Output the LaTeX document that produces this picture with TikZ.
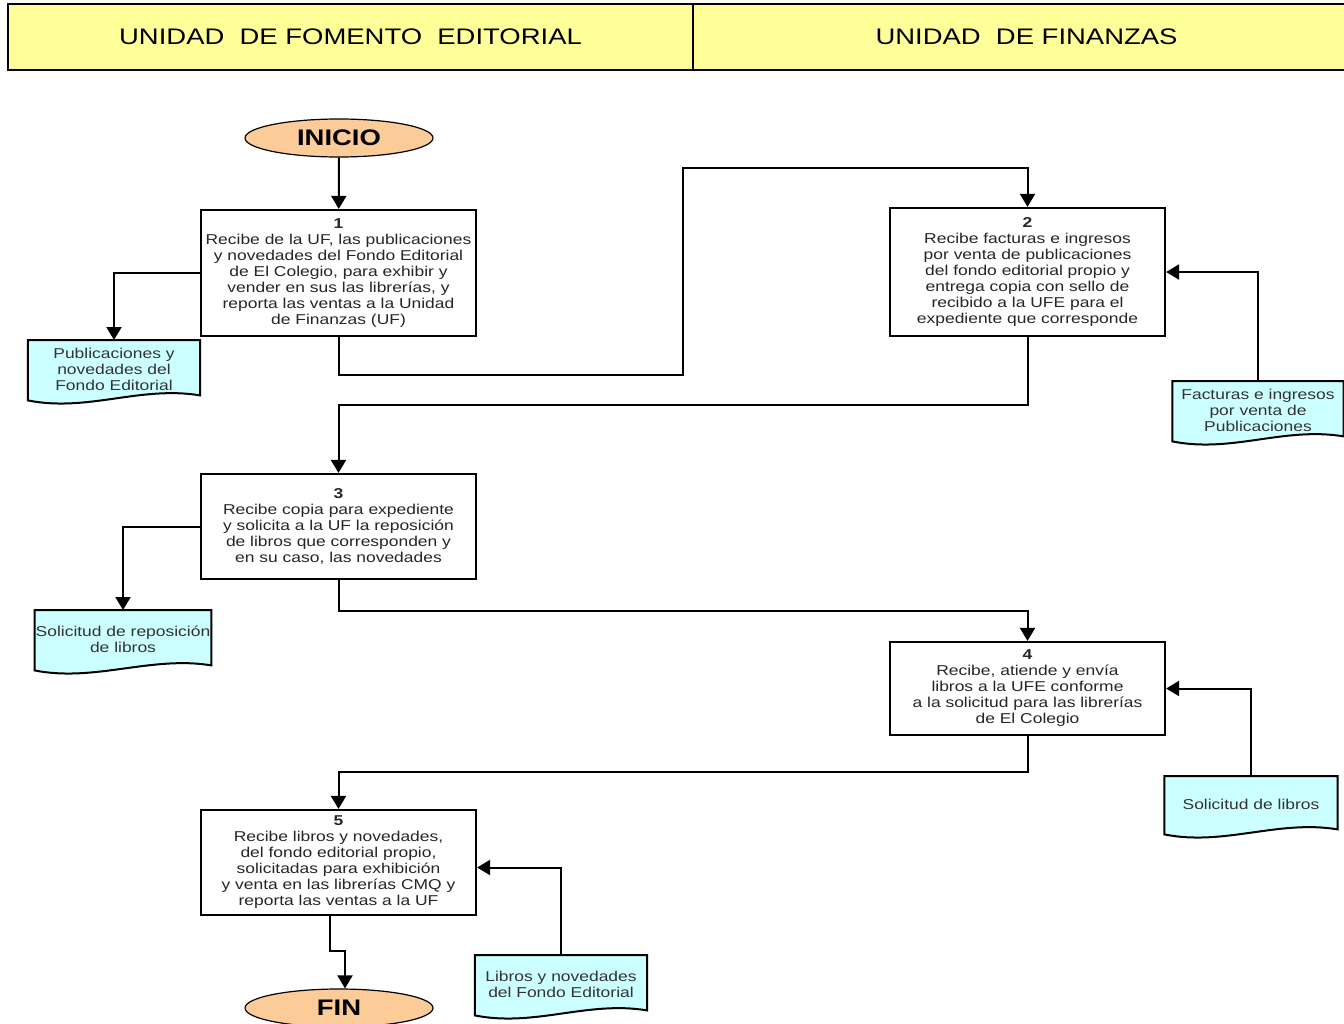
\documentclass[tikz,border=0pt]{standalone}
\usepackage{fontspec}
\setmainfont{Liberation Sans}[FakeStretch=1.22]
\usetikzlibrary{arrows.meta,shapes.geometric,backgrounds}

\definecolor{amarillo}{HTML}{FFFF99}
\definecolor{durazno}{HTML}{FBCB98}
\definecolor{celeste}{HTML}{CCFFFF}

\tikzset{
  encabezado/.style={draw, line width=2.2pt, fill=amarillo, minimum height=66pt,
    font=\fontsize{22.5}{24}\selectfont},
  terminal/.style={ellipse, draw, line width=1.2pt, fill=durazno, minimum width=188pt,
    minimum height=38pt, font=\fontsize{22.5}{24}\selectfont\bfseries},
  etapa/.style={draw, line width=2.2pt, fill=white, minimum width=275pt, inner sep=1pt,
    align=center, text=black!85, font=\fontsize{14.3}{16}\selectfont},
  doc/.style={anchor=north, minimum width=172pt, minimum height=58pt, inner sep=1pt,
    align=center, text=black!80, font=\fontsize{14.3}{16}\selectfont},
  flecha/.style={line width=2pt, -{Triangle[length=13pt,width=15pt]}},
}

% contorno de documento con borde inferior ondulado
\newcommand\docforma[1]{%
  \begin{scope}[on background layer]
    \draw[line width=2pt, fill=celeste] (#1.north west) -- (#1.north east)
      -- ([yshift=3pt]#1.south east)
      .. controls ([xshift=-60pt,yshift=13pt]#1.south east)
      and ([xshift=60pt,yshift=-14pt]#1.south west) .. ([yshift=-2pt]#1.south west)
      -- cycle;
  \end{scope}}

\begin{document}
\begin{tikzpicture}[x=1pt, y=-1pt]
  \useasboundingbox (0,0) rectangle (1344,1023);

  % carriles
  \node[encabezado, minimum width=685pt] (ufe) at (350.5,37) {UNIDAD\ \ DE FOMENTO\ \ EDITORIAL};
  \node[encabezado, minimum width=667pt] (uf) at (1026.5,37) {UNIDAD\ \ DE FINANZAS};

  % pasos
  \node[terminal] (inicio) at (339,138) {INICIO};
  \node[etapa, minimum height=126pt] (paso1) at (338.5,273) {\textbf{1}\\Recibe de la UF, las publicaciones\\y novedades del Fondo Editorial\\de El Colegio, para exhibir y\\vender  en sus las librerías, y\\reporta las ventas a la Unidad\\de Finanzas (UF)};
  \node[etapa, minimum height=128pt] (paso2) at (1027.5,272) {\textbf{2}\\Recibe facturas e ingresos\\por venta de publicaciones\\del fondo editorial propio y\\entrega copia con sello de\\recibido a la UFE para el\\expediente que corresponde};
  \node[etapa, minimum height=105pt] (paso3) at (338.5,526.5) {\textbf{3}\\Recibe copia para expediente\\y solicita a la UF la reposición\\de libros que corresponden y\\en su caso, las novedades};
  \node[etapa, minimum height=93pt] (paso4) at (1027.5,688.5) {\textbf{4}\\Recibe, atiende y envía\\libros a la UFE conforme\\a la solicitud para las librerías\\de El Colegio};
  \node[etapa, minimum height=105pt] (paso5) at (338.5,862.5) {\textbf{5}\\Recibe libros y novedades,\\del fondo editorial propio,\\solicitadas para exhibición\\y venta en las librerías CMQ y\\reporta las ventas a la UF};
  \node[terminal] (fin) at (339,1008) {FIN};

  % documentos
  \node[doc] (doc1) at (114,340) {Publicaciones y\\novedades del\\Fondo Editorial};
  \node[doc, minimum width=171pt] (doc2) at (1258,381) {Facturas e ingresos\\por venta de\\Publicaciones};
  \node[doc, minimum width=173pt] (doc3) at (123,610) {Solicitud de reposición\\de libros};
  \node[doc, minimum width=173pt, minimum height=56pt] (doc4) at (1251,776) {Solicitud de libros};
  \node[doc] (doc5) at (561,955) {Libros y novedades\\del Fondo Editorial};
  \docforma{doc1}
  \docforma{doc2}
  \docforma{doc3}
  \docforma{doc4}
  \docforma{doc5}

  % puntos de quiebre
  \coordinate (q1a) at (683,375);
  \coordinate (q1b) at (683,168);
  \coordinate (q2) at (683,405);
  \coordinate (q3) at (683,611);
  \coordinate (q4) at (683,772);
  \coordinate (q5) at (337,951);

  % flujo
  \draw[flecha] (inicio) -- (paso1);
  \draw[flecha] (paso1.west) -| (doc1.north);
  \draw[flecha] (paso1.south) |- (q1a) -- (q1b) -| (paso2.north);
  \draw[flecha] (doc2.north) |- (paso2.east);
  \draw[flecha] (paso2.south) |- (q2) -| (paso3.north);
  \draw[flecha] (paso3.west) -| (doc3.north);
  \draw[flecha] (paso3.south) |- (q3) -| (paso4.north);
  \draw[flecha] (doc4.north) |- (paso4.east);
  \draw[flecha] (paso4.south) |- (q4) -| (paso5.north);
  \draw[flecha] (doc5.north) |- ([yshift=-5pt]paso5.east);
  \draw[flecha] ([xshift=-9pt]paso5.south) |- (q5) -| ([xshift=6pt]fin.north);
\end{tikzpicture}
\end{document}
